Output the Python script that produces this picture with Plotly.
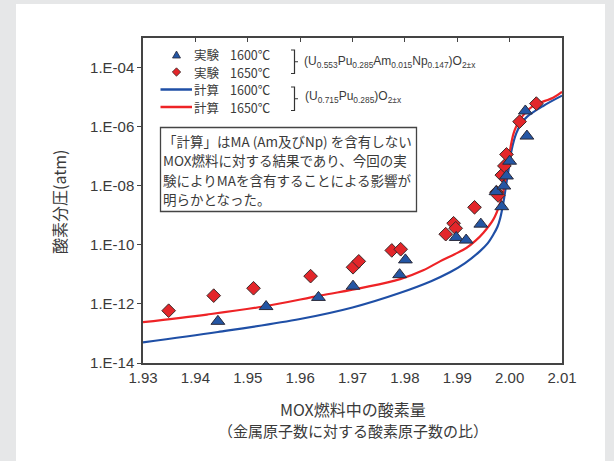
import plotly.graph_objects as go

# ---------------- data ----------------
exp1600_x = [1.9443, 1.9535, 1.9635, 1.9701, 1.9790, 1.9801, 1.9898, 1.9917, 1.9945,
             1.9974, 1.9985, 1.9989, 1.9994, 2.0000, 2.0030, 2.0033]
exp1600_logp = [-12.59, -12.09, -11.78, -11.40, -11.01, -10.51, -9.75, -9.84, -9.30,
                -8.20, -8.71, -8.01, -7.67, -7.17, -5.47, -6.32]

exp1650_x = [1.9349, 1.9435, 1.9511, 1.9620, 1.9701, 1.9712, 1.9775, 1.9792, 1.9878,
             1.9893, 1.9897, 1.9933, 1.9975, 1.9978, 1.9985, 1.9990, 1.9994, 2.0019, 2.0051]
exp1650_logp = [-12.23, -11.72, -11.47, -11.06, -10.76, -10.56, -10.19, -10.15, -9.64,
                -9.27, -9.44, -8.73, -8.22, -8.33, -7.64, -7.33, -6.94, -5.83, -5.22]

calc1600_x = [1.9300, 1.9443, 1.9600, 1.9700, 1.9790, 1.9850, 1.9886, 1.9915, 1.9943, 1.9958,
              1.9969, 1.9977, 1.9982, 1.9988, 1.9993, 1.9998, 2.0004, 2.0013, 2.0022, 2.0033,
              2.0064, 2.0100]
calc1600_logp = [-13.30, -12.95, -12.51, -12.12, -11.63, -11.23, -10.93, -10.62, -10.22, -9.95,
                 -9.65, -9.38, -9.10, -8.58, -8.01, -7.45, -6.77, -6.21, -5.90, -5.67,
                 -5.30, -4.95]

calc1650_x = [1.9300, 1.9422, 1.9533, 1.9638, 1.9720, 1.9791, 1.9835, 1.9867, 1.9895, 1.9918,
              1.9935, 1.9950, 1.9969, 1.9982, 1.9990, 1.9994, 2.0001, 2.0007, 2.0013, 2.0020,
              2.0045, 2.0083, 2.0100]
calc1650_logp = [-12.62, -12.36, -12.08, -11.72, -11.45, -11.16, -10.86, -10.56, -10.32, -10.10,
                 -9.86, -9.59, -9.14, -8.58, -8.01, -7.45, -6.77, -6.26, -5.98, -5.75,
                 -5.30, -5.02, -4.82]

x_ticks = [1.93, 1.94, 1.95, 1.96, 1.97, 1.98, 1.99, 2.00, 2.01]
x_ticktext = ["1.93", "1.94", "1.95", "1.96", "1.97", "1.98", "1.99", "2.00", "2.01"]
y_tick_exp = [-14, -12, -10, -8, -6, -4]
y_ticktext = ["1.E-14", "1.E-12", "1.E-10", "1.E-08", "1.E-06", "1.E-04"]

legend_kind = ["実験", "実験", "計算", "計算"]
legend_temp = ["1600℃", "1650℃", "1600℃", "1650℃"]
comp_ma = "(U<sub>0.553</sub>Pu<sub>0.285</sub>Am<sub>0.015</sub>Np<sub>0.147</sub>)O<sub>2±x</sub>"
comp_mox = "(U<sub>0.715</sub>Pu<sub>0.285</sub>)O<sub>2±x</sub>"
note_lines = ["「計算」はMA (Am及びNp) を含有しない",
              "MOX燃料に対する結果であり、今回の実",
              "験によりMAを含有することによる影響が",
              "明らかとなった。"]
x_title = ["MOX燃料中の酸素量", "（金属原子数に対する酸素原子数の比）"]
y_title = "酸素分圧(atm)"

# ---------------- styling ----------------
W, H = 614, 461
L, R, T, B = 143, 562, 38, 363
def px(x):
    return (x - L) / (R - L)
def py(y):
    return (B - y) / (B - T)

BLUE = "#1f4fa6"
RED = "#ee2326"
MBLUE = "#2456a4"
MRED = "#e3262a"
TXT = "#3a3a3a"
JP = "Noto Sans CJK JP"
NUM = "Liberation Sans Narrow, Liberation Sans, Arial"

p = lambda arr: [10 ** v for v in arr]

fig = go.Figure()
fig.add_trace(go.Scatter(x=calc1600_x, y=p(calc1600_logp), mode="lines",
                         line=dict(color=BLUE, width=2.2, shape="spline", smoothing=1), showlegend=False))
fig.add_trace(go.Scatter(x=calc1650_x, y=p(calc1650_logp), mode="lines",
                         line=dict(color=RED, width=2.2, shape="spline", smoothing=1), showlegend=False))
fig.add_trace(go.Scatter(x=exp1650_x, y=p(exp1650_logp), mode="markers",
                         marker=dict(symbol="diamond", size=10.5, color=MRED, line=dict(color="#3a2a2a", width=1)),
                         showlegend=False))
fig.add_trace(go.Scatter(x=exp1600_x, y=p(exp1600_logp), mode="markers",
                         marker=dict(symbol="triangle-up", size=12, color=MBLUE, line=dict(color="#2a2a3a", width=1)),
                         showlegend=False))
fig.add_trace(go.Scatter(x=[None], y=[None], xaxis="x2", showlegend=False))

shapes = []
# white card
shapes.append(dict(type="rect", xref="paper", yref="paper", x0=px(16), x1=px(605), y0=py(4), y1=py(470),
                   fillcolor="white", line=dict(width=0), layer="below"))
# legend keys
ky = [54.5, 72, 89.5, 107]
tri = f"M {px(172.5)} {py(ky[0]+3.5)} L {px(180.5)} {py(ky[0]+3.5)} L {px(176.5)} {py(ky[0]-3.5)} Z"
shapes.append(dict(type="path", xref="paper", yref="paper", path=tri, fillcolor=MBLUE, line=dict(color="#2a2a3a", width=0.8)))
dia = (f"M {px(176.5)} {py(ky[1]-4.2)} L {px(180.7)} {py(ky[1])} L {px(176.5)} {py(ky[1]+4.2)} "
       f"L {px(172.3)} {py(ky[1])} Z")
shapes.append(dict(type="path", xref="paper", yref="paper", path=dia, fillcolor=MRED, line=dict(color="#3a2a2a", width=0.8)))
for yy, col in [(ky[2], BLUE), (ky[3], RED)]:
    shapes.append(dict(type="line", xref="paper", yref="paper", x0=px(160.5), x1=px(192), y0=py(yy), y1=py(yy),
                       line=dict(color=col, width=2.5)))
# brackets
for (y0, y1) in [(50, 73.5), (87, 110.5)]:
    ym = (y0 + y1) / 2
    path = (f"M {px(291)} {py(y0)} L {px(294.5)} {py(y0)} L {px(294.5)} {py(y1)} L {px(291)} {py(y1)} "
            f"M {px(294.5)} {py(ym)} L {px(298)} {py(ym)}")
    shapes.append(dict(type="path", xref="paper", yref="paper", path=path, line=dict(color="#333", width=1.2)))
# note box
shapes.append(dict(type="rect", xref="paper", yref="paper", x0=px(160.5), x1=px(416.5), y0=py(127.5), y1=py(211.5),
                   fillcolor="white", line=dict(color="#444", width=1.3)))

annotations = []
for i in range(4):
    annotations.append(dict(text=legend_kind[i], x=px(193), y=py(ky[i]), xref="paper", yref="paper", xanchor="left",
                            yanchor="middle", borderpad=0, showarrow=False,
                            font=dict(family=JP, size=12.5, color=TXT)))
    annotations.append(dict(text=legend_temp[i], x=px(229), y=py(ky[i]), xref="paper", yref="paper", xanchor="left",
                            yanchor="middle", borderpad=0, showarrow=False,
                            font=dict(family=JP, size=12.5, color=TXT)))
annotations.append(dict(text=comp_ma, x=px(302), y=py(62), xref="paper", yref="paper", xanchor="left", yanchor="middle",
                        showarrow=False, font=dict(family="Liberation Sans, Arial", size=12, color=TXT)))
annotations.append(dict(text=comp_mox, x=px(303), y=py(97), xref="paper", yref="paper", xanchor="left", yanchor="middle",
                        showarrow=False, font=dict(family="Liberation Sans, Arial", size=12, color=TXT)))
for i, t in enumerate(note_lines):
    annotations.append(dict(text=t, x=px(162), y=py(140.5 + 19.6 * i), xref="paper", yref="paper", xanchor="left",
                            yanchor="middle", borderpad=0, showarrow=False,
                            font=dict(family=JP, size=13.5, color=TXT)))
annotations.append(dict(text=x_title[0], x=0.5, y=py(409), xref="paper", yref="paper", xanchor="center", yanchor="middle",
                        showarrow=False, font=dict(family=JP, size=16, color=TXT)))
annotations.append(dict(text=x_title[1], x=0.5, y=py(430), xref="paper", yref="paper", xanchor="center", yanchor="middle",
                        showarrow=False, font=dict(family=JP, size=15, color=TXT)))
annotations.append(dict(text=y_title, x=px(59), y=py(202), xref="paper", yref="paper", xanchor="center", yanchor="middle",
                        textangle=-90, showarrow=False, font=dict(family=JP, size=16, color=TXT)))

fig.update_layout(
    width=W, height=H,
    margin=dict(l=L, r=W - R, t=T, b=H - B),
    paper_bgcolor="#e6e7e8", plot_bgcolor="white",
    showlegend=False,
    xaxis=dict(range=[1.93, 2.01], tickvals=x_ticks, ticktext=x_ticktext, showgrid=False, zeroline=False,
               showline=True, linecolor="#444", linewidth=1.5, mirror=True, ticks="",
               tickfont=dict(family=NUM, size=15, color=TXT)),
    xaxis2=dict(range=[1.93, 2.01], overlaying="x", side="top", tickvals=x_ticks, showticklabels=False,
                ticks="inside", ticklen=4, tickcolor="#444", showgrid=False, zeroline=False, showline=False),
    yaxis=dict(type="log", range=[-14, -3], tickvals=[10 ** e for e in y_tick_exp], ticktext=y_ticktext,
               showgrid=False, zeroline=False, showline=True, linecolor="#444", linewidth=1.5, mirror=True,
               ticks="outside", ticklen=4, tickcolor="#444", tickfont=dict(family=NUM, size=15, color=TXT)),
    shapes=shapes, annotations=annotations,
)
fig.write_html("out.html", post_script="document.body.style.margin='0px';", config={"displayModeBar": False})
